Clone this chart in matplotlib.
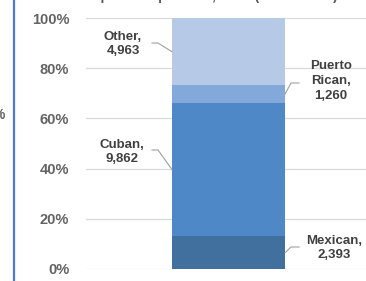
import matplotlib.pyplot as plt
from matplotlib.lines import Line2D

# data
groups = ['Mexican', 'Cuban', 'Puerto Rican', 'Other']
values = [2393, 9862, 1260, 4963]
labels = ['Mexican,\n2,393', 'Cuban,\n9,862', 'Puerto\nRican,\n1,260', 'Other,\n4,963']
colors = ['#41709f', '#4f88c6', '#82a9d9', '#b6c9e7']
yticks = [0, 20, 40, 60, 80, 100]

W, H = 366, 281
fig = plt.figure(figsize=(W / 100, H / 100), dpi=100)
ax = fig.add_axes([86 / W, 12 / H, 280 / W, 251 / H])

total = sum(values)
pct = [v / total * 100 for v in values]

bx, bw = 0.509, 0.404
bottom = 0
mids = []
for p, c in zip(pct, colors):
    ax.bar(bx, p, width=bw, bottom=bottom, color=c, zorder=2)
    mids.append(bottom + p / 2)
    bottom += p

ax.set_xlim(0, 1)
ax.set_ylim(0, 100)
ax.set_yticks(yticks)
ax.set_yticklabels([f'{t}%' for t in yticks])
ax.set_xticks([])
for s in ax.spines.values():
    s.set_visible(False)
ax.tick_params(axis='y', length=0, pad=12, labelsize=10.5, labelcolor='#636363')
for t in ax.get_yticklabels():
    t.set_fontweight('bold')
    t.set_family('Liberation Sans')
ax.grid(axis='y', color='#d9d9d9', lw=0.9, zorder=0)

# data labels: side and text x (px), leader knee y (px)
left_edge = bx - bw / 2
right_edge = bx + bw / 2
lab_cfg = {
    'Mexican': ('right', 334),
    'Cuban': ('left', 122),
    'Puerto Rican': ('right', 331),
    'Other': ('left', 123),
}
text_y = {'Mexican': 248, 'Cuban': 152, 'Puerto Rican': 81, 'Other': 44}
knee_y = {'Mexican': 247, 'Cuban': 150, 'Puerto Rican': 83, 'Other': 43}

def px2ax(px, py):
    return (px - 86) / 280, (269 - py) / 251

for g, lab, m in zip(groups, labels, mids):
    side, tx = lab_cfg[g]
    axx, axy = px2ax(tx, text_y[g])
    ax.text(axx, axy, lab, transform=ax.transAxes, ha='center', va='center',
            fontsize=9.5, fontweight='bold', color='#404040', linespacing=1.3,
            family='Liberation Sans')
    ky = px2ax(0, knee_y[g])[1] * 100
    if side == 'left':
        xs = [left_edge, px2ax(158, 0)[0], px2ax(152, 0)[0]]
    else:
        xs = [right_edge, px2ax(291, 0)[0], px2ax(299, 0)[0]]
    ax.plot(xs, [m, ky, ky], color='#a0a0a0', lw=0.8, zorder=3, clip_on=False)

# cropped bits of the original screenshot
fig.add_artist(Line2D([14 / W, 14 / W], [0, 1], color='#4a7bd8', lw=1.6))
fig.text(-0.02, 1 - 115 / H, '%', fontsize=10, fontweight='bold', color='#636363',
         va='center', family='Liberation Sans')
fig.text(0.57, 1 - 3 / H, 'Hispanic Population, 2017 (Thousands)', ha='center',
         va='bottom', fontsize=10, fontweight='bold', color='#595959',
         family='Liberation Sans')

fig.savefig('out.png', dpi=100)
